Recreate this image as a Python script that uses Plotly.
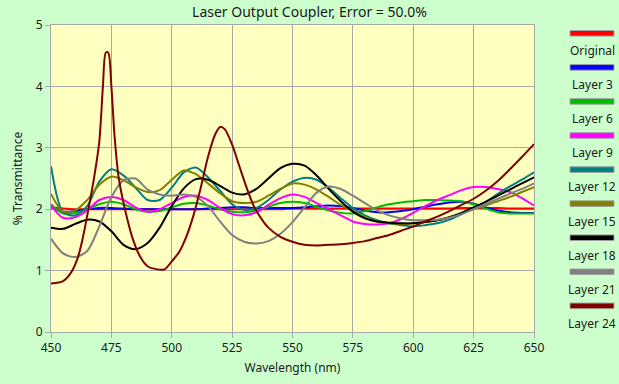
import plotly.graph_objects as go

# ---------------- data ----------------
wavelength = [450, 455, 460, 465, 470, 475, 480, 485, 490, 495, 500, 505, 510, 515, 520,
              525, 530, 535, 540, 545, 550, 555, 560, 565, 570, 575, 580, 585, 590, 595,
              600, 605, 610, 615, 620, 625, 630, 635, 640, 645, 650]

original = [2.03, 2.01, 2.00, 2.00, 2.00, 2.00, 2.00, 2.00, 2.00, 2.00, 2.00, 2.00, 2.00, 2.00, 2.00,
            2.00, 2.00, 2.00, 2.00, 2.00, 2.01, 2.01, 2.01, 2.01, 2.01, 2.01, 2.01, 2.01, 2.01, 2.01,
            2.01, 2.01, 2.01, 2.01, 2.02, 2.02, 2.02, 2.02, 2.01, 2.01, 2.01]

layer3 = [2.03, 1.96, 1.97, 2.00, 2.02, 2.02, 2.01, 2.00, 2.00, 2.00, 2.00, 2.00, 2.00, 2.01, 2.02,
          2.03, 2.03, 2.02, 2.02, 2.02, 2.02, 2.03, 2.05, 2.06, 2.05, 2.02, 1.98, 1.95, 1.95, 1.97,
          2.00, 2.04, 2.08, 2.11, 2.12, 2.09, 2.03, 1.98, 1.95, 1.94, 1.94]

layer6 = [2.08, 1.93, 1.94, 2.00, 2.08, 2.12, 2.08, 2.00, 1.96, 1.97, 2.03, 2.09, 2.10, 2.06, 2.00,
          1.96, 1.95, 1.98, 2.04, 2.10, 2.12, 2.10, 2.04, 1.98, 1.94, 1.93, 1.97, 2.03, 2.08, 2.11,
          2.13, 2.15, 2.15, 2.14, 2.13, 2.08, 2.01, 1.95, 1.93, 1.93, 1.93]

layer9 = [2.06, 1.86, 1.87, 1.98, 2.15, 2.20, 2.15, 2.03, 1.96, 2.00, 2.10, 2.20, 2.22, 2.15, 2.02,
          1.92, 1.90, 1.95, 2.07, 2.18, 2.24, 2.20, 2.10, 2.00, 1.90, 1.80, 1.76, 1.75, 1.77, 1.84,
          1.94, 2.05, 2.15, 2.23, 2.31, 2.36, 2.36, 2.33, 2.28, 2.18, 2.06]

layer12 = [2.70, 1.95, 1.90, 2.05, 2.45, 2.65, 2.55, 2.35, 2.15, 2.15, 2.35, 2.60, 2.68, 2.52, 2.30,
           2.08, 1.99, 2.02, 2.15, 2.32, 2.45, 2.51, 2.48, 2.35, 2.18, 2.02, 1.90, 1.82, 1.77, 1.74,
           1.72, 1.74, 1.77, 1.83, 1.92, 2.02, 2.12, 2.25, 2.37, 2.48, 2.60]

layer15 = [2.25, 1.96, 1.98, 2.15, 2.40, 2.53, 2.47, 2.36, 2.28, 2.31, 2.48, 2.63, 2.57, 2.42, 2.26,
           2.13, 2.10, 2.12, 2.22, 2.33, 2.42, 2.40, 2.32, 2.20, 2.07, 1.98, 1.87, 1.80, 1.77, 1.76,
           1.77, 1.79, 1.82, 1.87, 1.93, 2.00, 2.06, 2.13, 2.20, 2.28, 2.36]

layer18 = [1.70, 1.68, 1.76, 1.83, 1.80, 1.64, 1.42, 1.35, 1.45, 1.70, 2.05, 2.34, 2.49, 2.48, 2.38,
           2.27, 2.24, 2.33, 2.50, 2.67, 2.74, 2.71, 2.55, 2.33, 2.13, 1.96, 1.85, 1.80, 1.78, 1.77,
           1.77, 1.79, 1.82, 1.87, 1.94, 2.03, 2.12, 2.22, 2.32, 2.42, 2.52]

layer21 = [1.52, 1.28, 1.22, 1.32, 1.72, 2.20, 2.47, 2.50, 2.32, 2.24, 2.22, 2.24, 2.20, 2.05, 1.80,
           1.58, 1.47, 1.44, 1.48, 1.60, 1.79, 2.03, 2.27, 2.37, 2.33, 2.22, 2.10, 1.98, 1.90, 1.85,
           1.82, 1.82, 1.83, 1.86, 1.92, 2.00, 2.08, 2.17, 2.25, 2.33, 2.42]

wavelength_l24 = [450, 455, 458, 461, 463, 465.5, 468, 470, 471.5, 472.7, 473.7, 475, 476.3, 478, 480.5,
                  484, 487, 490, 494, 497, 500, 503, 506, 509, 512, 515, 518, 520, 522, 525,
                  528, 531, 534, 537, 540, 545, 550, 555, 560, 565, 570, 575, 580, 585, 590,
                  595, 600, 605, 610, 615, 620, 625, 630, 635, 640, 645, 650]
layer24 = [0.79, 0.83, 0.95, 1.20, 1.50, 2.00, 2.55, 3.10, 4.00, 4.55, 4.55, 4.00, 3.20, 2.52, 2.02,
           1.50, 1.22, 1.07, 1.02, 1.02, 1.15, 1.30, 1.55, 1.90, 2.35, 2.85, 3.22, 3.34, 3.30, 3.05,
           2.70, 2.35, 2.05, 1.85, 1.70, 1.55, 1.47, 1.42, 1.41, 1.42, 1.43, 1.45, 1.48, 1.53, 1.58,
           1.65, 1.72, 1.80, 1.88, 1.97, 2.07, 2.17, 2.30, 2.46, 2.65, 2.85, 3.06]

series_names = ["Original", "Layer 3", "Layer 6", "Layer 9", "Layer 12",
                "Layer 15", "Layer 18", "Layer 21", "Layer 24"]
series_values = [original, layer3, layer6, layer9, layer12, layer15, layer18, layer21, layer24]
series_x = [wavelength] * 8 + [wavelength_l24]
series_colors = ["#FF0000", "#0000FF", "#00BB00", "#FF00FF", "#008080",
                 "#808000", "#000000", "#808080", "#800000"]

x_ticks = [450, 475, 500, 525, 550, 575, 600, 625, 650]
y_ticks = [0, 1, 2, 3, 4, 5]

# ---------------- figure ----------------
W, H = 619, 384
ML, MR, MT, MB = 51, 85, 25, 52
PW, PH = W - ML - MR, H - MT - MB
FONT = "Noto Sans"

fig = go.Figure()
for name, xs, ys, col in zip(series_names, series_x, series_values, series_colors):
    fig.add_trace(go.Scatter(x=xs, y=ys, mode="lines", name=name,
                             line=dict(color=col, width=2, shape="spline", smoothing=0.8),
                             showlegend=False, hoverinfo="skip"))

def px_to_paper_x(px):
    return (px - ML) / PW

def px_to_paper_y(py):
    return (H - MB - py) / PH

shapes = []
annotations = []
for i, (name, col) in enumerate(zip(series_names, series_colors)):
    cy = 33.3 + 34.07 * i
    shapes.append(dict(type="rect", xref="paper", yref="paper",
                       x0=px_to_paper_x(570), x1=px_to_paper_x(614),
                       y0=px_to_paper_y(cy + 2.8), y1=px_to_paper_y(cy - 2.8),
                       fillcolor=col, line=dict(color="#A0A0A0", width=1)))
    annotations.append(dict(x=px_to_paper_x(592), y=px_to_paper_y(cy + 17.4),
                            xref="paper", yref="paper", text=name, showarrow=False,
                            xanchor="center", yanchor="middle",
                            font=dict(family=FONT, size=12, color="#1a1a1a")))

fig.update_layout(
    width=W, height=H,
    margin=dict(l=ML, r=MR, t=MT, b=MB),
    paper_bgcolor="#CCFFCC",
    plot_bgcolor="#FFFFC0",
    title=dict(text="Laser Output Coupler, Error = 50.0%", x=0.5, xref="container",
               xanchor="center", y=1 - 12.5 / H, yanchor="middle",
               font=dict(family=FONT, size=14, color="#1a1a1a")),
    font=dict(family=FONT, size=12, color="#1a1a1a"),
    shapes=shapes,
    annotations=annotations,
    showlegend=False,
)

fig.update_xaxes(range=[450, 650], tickvals=x_ticks, ticktext=[str(v) for v in x_ticks],
                 showgrid=True, gridcolor="#A8A8A8", gridwidth=1,
                 showline=True, linecolor="#A8A8A8", linewidth=1, mirror=True,
                 ticks="outside", ticklen=5, tickcolor="#A8A8A8",
                 title=dict(text="Wavelength (nm)", standoff=8,
                            font=dict(family=FONT, size=12, color="#1a1a1a")),
                 tickfont=dict(family=FONT, size=12, color="#1a1a1a"), zeroline=False)
fig.update_yaxes(range=[0, 5], tickvals=y_ticks, ticktext=[str(v) for v in y_ticks],
                 showgrid=True, gridcolor="#A8A8A8", gridwidth=1,
                 showline=True, linecolor="#A8A8A8", linewidth=1, mirror=True,
                 ticks="outside", ticklen=5, tickcolor="#A8A8A8",
                 title=dict(text="% Transmittance", standoff=10,
                            font=dict(family=FONT, size=12, color="#1a1a1a")),
                 tickfont=dict(family=FONT, size=12, color="#1a1a1a"), zeroline=False)

fig.write_html("out.html", config={"displayModeBar": False},
               post_script="document.body.style.margin='0';")
